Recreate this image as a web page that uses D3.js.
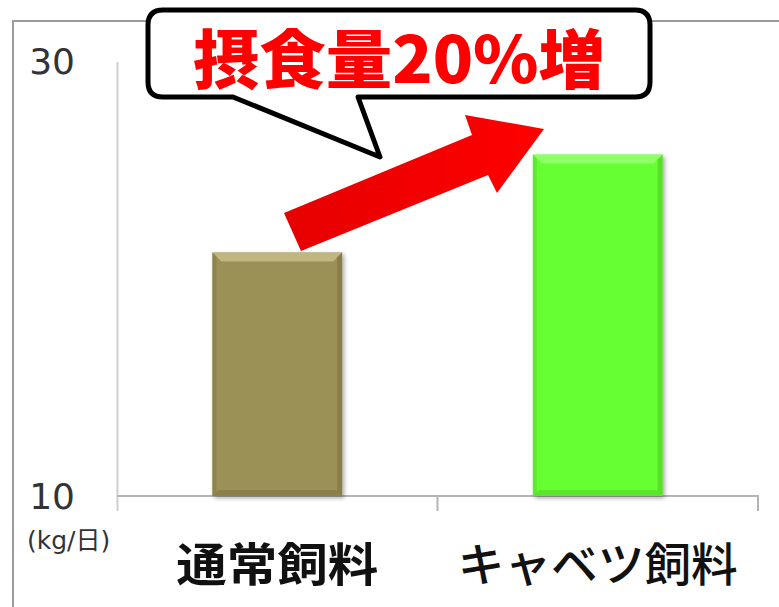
<!DOCTYPE html>
<html>
<head>
<meta charset="utf-8">
<script src="https://cdn.jsdelivr.net/npm/d3@7"></script>
<style>
  body { margin: 0; background: #fff; }
  svg { display: block; }
</style>
</head>
<body>
<div id="chart"></div>
<script>
const svgWidth = 779;
const svgHeight = 607;

// data
const categories = ['通常飼料', 'キャベツ飼料'];
const intake = [21.2, 25.7];
const yTickValues = [10, 30];
const labelWidths = [202, 280];
const barColors = ['#9b9157', '#66ff33'];
const bevelLight = ['#d9d19c', '#a8ff88'];
const bevelDark = ['#7a7140', '#4fcc26'];

let svg = d3.select('#chart')
  .append('svg')
  .attr('width', svgWidth)
  .attr('height', svgHeight);

let defs = svg.append('defs');
defs.append('filter').attr('id', 'shadow')
  .attr('x', '-10%').attr('y', '-10%').attr('width', '130%').attr('height', '130%')
  .append('feDropShadow')
  .attr('dx', 2).attr('dy', 2).attr('stdDeviation', 2)
  .attr('flood-color', '#000').attr('flood-opacity', 0.35);

let arrowGrad = defs.append('linearGradient').attr('id', 'arrowGrad')
  .attr('x1', '0%').attr('x2', '100%');
arrowGrad.append('stop').attr('offset', '0%').attr('stop-color', '#e60000');
arrowGrad.append('stop').attr('offset', '100%').attr('stop-color', '#ff0000');

// frame
svg.append('path')
  .attr('d', 'M13,607 L13,21 L779,21')
  .attr('fill', 'none')
  .attr('stroke', '#9c9c9c')
  .attr('stroke-width', 2);

// scales
let x = d3.scaleBand()
  .domain(categories)
  .range([117, 758])
  .padding(0);

let y = d3.scaleLinear()
  .domain([10, 30])
  .range([496, 61]);

let bw = x.bandwidth();
let barW = bw * 0.405;

// y axis
let yAxis = svg.append('g')
  .attr('transform', 'translate(117,0)')
  .call(d3.axisLeft(y).tickValues(yTickValues).tickSize(0).tickPadding(42));
yAxis.select('.domain').remove();
yAxis.selectAll('text')
  .attr('font-family', 'DejaVu Sans')
  .attr('font-size', 36)
  .attr('fill', '#333')
  .attr('dy', '0.36em');

svg.append('line')
  .attr('x1', 117.5).attr('x2', 117.5)
  .attr('y1', y(30) + 1).attr('y2', 511)
  .attr('stroke', '#cfcfcf')
  .attr('stroke-width', 2);

// x axis
svg.append('line')
  .attr('x1', 117).attr('x2', x.range()[1] + 1)
  .attr('y1', y(10)).attr('y2', y(10))
  .attr('stroke', '#b4b4b4')
  .attr('stroke-width', 2);

svg.selectAll('.xtick')
  .data(categories)
  .enter()
  .append('line')
  .attr('x1', d => x(d) + bw)
  .attr('x2', d => x(d) + bw)
  .attr('y1', y(10))
  .attr('y2', 511)
  .attr('stroke', '#b4b4b4')
  .attr('stroke-width', 2);

svg.append('text')
  .attr('x', 27)
  .attr('y', 540)
  .attr('dy', '0.35em')
  .attr('font-family', 'DejaVu Sans, Noto Sans CJK JP')
  .attr('font-size', 25)
  .attr('fill', '#333')
  .text('(kg/日)');

// bars
let bars = svg.selectAll('.bar')
  .data(categories)
  .enter()
  .append('g')
  .attr('class', 'bar');

bars.append('rect')
  .attr('x', d => x(d) + (bw - barW) / 2)
  .attr('y', (d, i) => y(intake[i]))
  .attr('width', barW)
  .attr('height', (d, i) => y(10) - y(intake[i]))
  .attr('fill', (d, i) => barColors[i])
  .attr('filter', 'url(#shadow)');

// bevel edges
const bev = 9;
function bevelPaths(d, i) {
  let x0 = x(d) + (bw - barW) / 2, x1 = x0 + barW;
  let y0 = y(intake[i]), y1 = y(10);
  return [
    { pts: [[x0, y0], [x1, y0], [x1 - bev, y0 + bev], [x0 + bev, y0 + bev]], c: bevelLight[i], o: 0.6 },
    { pts: [[x0, y0], [x0 + 4, y0 + 4], [x0 + 4, y1 - 4], [x0, y1]], c: bevelDark[i], o: 0.4 },
    { pts: [[x1, y0], [x1 - 5, y0 + 5], [x1 - 5, y1 - 5], [x1, y1]], c: bevelDark[i], o: 0.6 },
    { pts: [[x0, y1], [x0 + 6, y1 - 6], [x1 - 6, y1 - 6], [x1, y1]], c: bevelDark[i], o: 0.5 }
  ];
}
bars.each(function (d, i) {
  d3.select(this).selectAll('polygon')
    .data(bevelPaths(d, i))
    .enter()
    .append('polygon')
    .attr('points', p => p.pts.map(q => q.join(',')).join(' '))
    .attr('fill', p => p.c)
    .attr('opacity', p => p.o);
});

// category labels
svg.selectAll('.catLabel')
  .data(categories)
  .enter()
  .append('text')
  .attr('x', d => x(d) + bw / 2)
  .attr('y', 561)
  .attr('text-anchor', 'middle')
  .attr('dominant-baseline', 'central')
  .attr('font-family', 'Noto Sans CJK JP')
  .attr('font-weight', (d, i) => i === 0 ? 'bold' : 500)
  .attr('font-size', 46)
  .attr('fill', '#111')
  .attr('textLength', (d, i) => labelWidths[i])
  .attr('lengthAdjust', 'spacingAndGlyphs')
  .text(d => d);

// red arrow from first bar toward second
let arrowPts = [[284, 213], [472, 135], [465, 115], [544, 129], [497, 193], [488, 175], [301, 251]];
svg.append('polygon')
  .attr('points', arrowPts.map(p => p.join(',')).join(' '))
  .attr('fill', 'url(#arrowGrad)');

// callout
let callout = svg.append('g');
callout.append('path')
  .attr('d', 'M163,10 L635,10 Q650,10 650,25 L650,82 Q650,97 635,97 L358,97 L380,157 L233,97 L163,97 Q148,97 148,82 L148,25 Q148,10 163,10 Z')
  .attr('fill', '#fff')
  .attr('stroke', '#000')
  .attr('stroke-width', 5)
  .attr('stroke-linejoin', 'round');

callout.append('text')
  .attr('x', 399)
  .attr('y', 55)
  .attr('text-anchor', 'middle')
  .attr('dominant-baseline', 'central')
  .attr('font-family', 'Noto Sans CJK JP')
  .attr('font-weight', 900)
  .attr('font-size', 64)
  .attr('fill', '#ff0000')
  .attr('textLength', 412)
  .attr('lengthAdjust', 'spacingAndGlyphs')
  .text('摂食量20%増');
</script>
</body>
</html>
